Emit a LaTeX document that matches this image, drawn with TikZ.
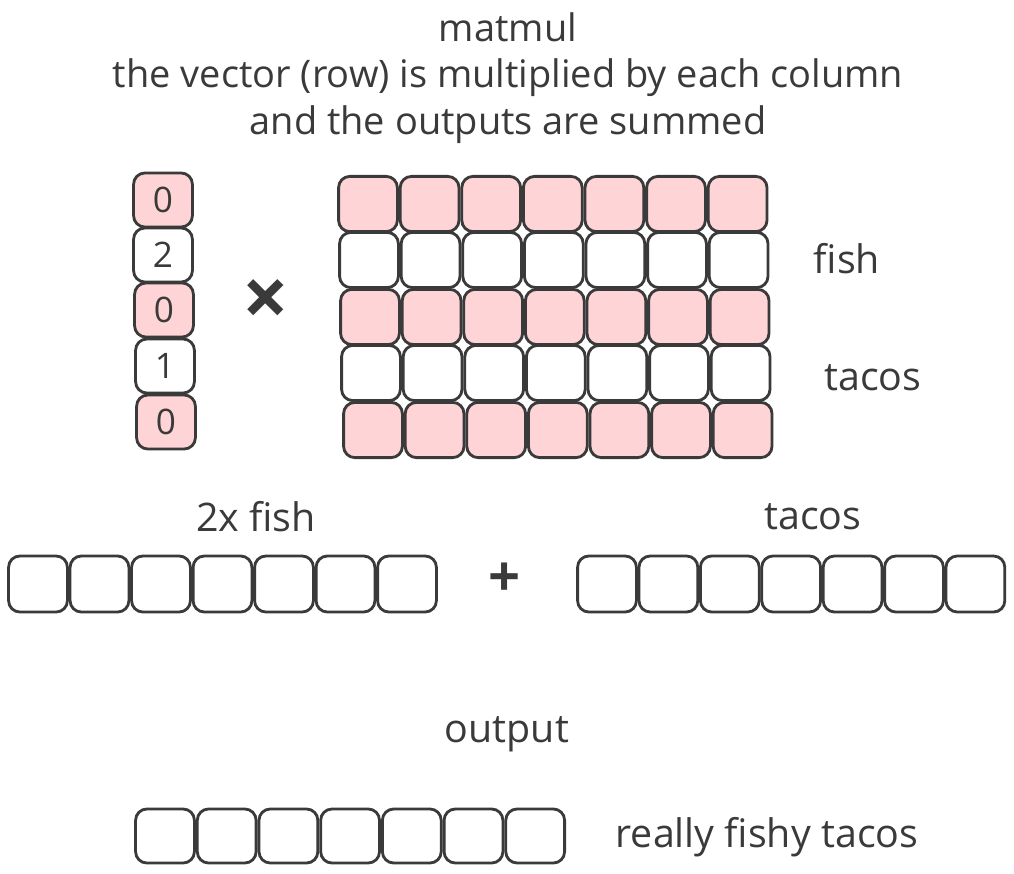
\documentclass[tikz,border=0pt]{standalone}
\usepackage{fontspec}
\setmainfont{Open Sans}
\usetikzlibrary{positioning}

\definecolor{ink}{HTML}{3A3A3A}
\definecolor{rosy}{HTML}{FFD4D6}

\tikzset{
    cell/.style={draw=ink, line width=2pt, rounded corners=8pt, fill=white,
        minimum width=1.47cm, minimum height=1.35cm, inner sep=0pt, text=ink,
        font=\fontsize{25}{25}\selectfont},
    pinkcell/.style={cell, fill=rosy},
    label/.style={text=ink, font=\fontsize{28}{34}\selectfont, inner sep=0pt},
    opsym/.style={text=ink, font=\fontsize{40}{40}\selectfont\bfseries, inner sep=0pt}
}

\begin{document}
\begin{tikzpicture}[x=0.025cm, y=-0.025cm]
    \useasboundingbox[fill=white] (0,0) rectangle (1014,874);

    % Title
    \node[label, align=center, font=\fontsize{27}{33}\selectfont] (title) at (508,78)
        {matmul\\the vector (row) is multiplied by each column\\and the outputs are summed};

    % Vector column
    \node[pinkcell] (v1) at (163,200) {0};
    \node[cell]     (v2) at (163,255) {2};
    \node[pinkcell] (v3) at (164,310) {0};
    \node[cell]     (v4) at (165,366) {1};
    \node[pinkcell] (v5) at (166,422) {0};
    \node[opsym, font=\fontsize{58}{58}\selectfont\bfseries] (times) at (266,303) {×};

    % Matrix, white rows are fish and tacos
    \foreach \r/\y/\dx in {1/204/0, 2/260/1, 3/317/2, 4/373/3, 5/430/5} {
        \foreach \c in {1,...,7} {
            \pgfmathsetmacro{\xx}{368+61.6*(\c-1)+\dx}
            \ifodd\r
                \node[pinkcell, minimum height=1.38cm] (m-\r-\c) at (\xx,\y) {};
            \else
                \node[cell, minimum height=1.38cm] (m-\r-\c) at (\xx,\y) {};
            \fi
        }
    }
    \node[label] (fish) at (847,259) {fish};
    \node[label] (tacos) at (873,378) {tacos};

    % Scaled rows
    \node[label] (fishlbl) at (256,517) {2x fish};
    \node[label] (tacolbl) at (813,517) {tacos};
    \foreach \c in {1,...,7} {
        \node[cell, minimum height=1.4cm] (a\c) at ({38+61.5*(\c-1)},584) {};
        \node[cell, minimum height=1.4cm] (b\c) at ({607+61.4*(\c-1)},584) {};
    }
    \node[opsym] (plus) at (505,580) {+};

    % Output row
    \node[label] (outlbl) at (507,734) {output};
    \foreach \c in {1,...,7} {
        \node[cell] (o\c) at ({165+61.7*(\c-1)},836) {};
    }
    \node[label] (result) at (767,837) {really fishy tacos};
\end{tikzpicture}
\end{document}
